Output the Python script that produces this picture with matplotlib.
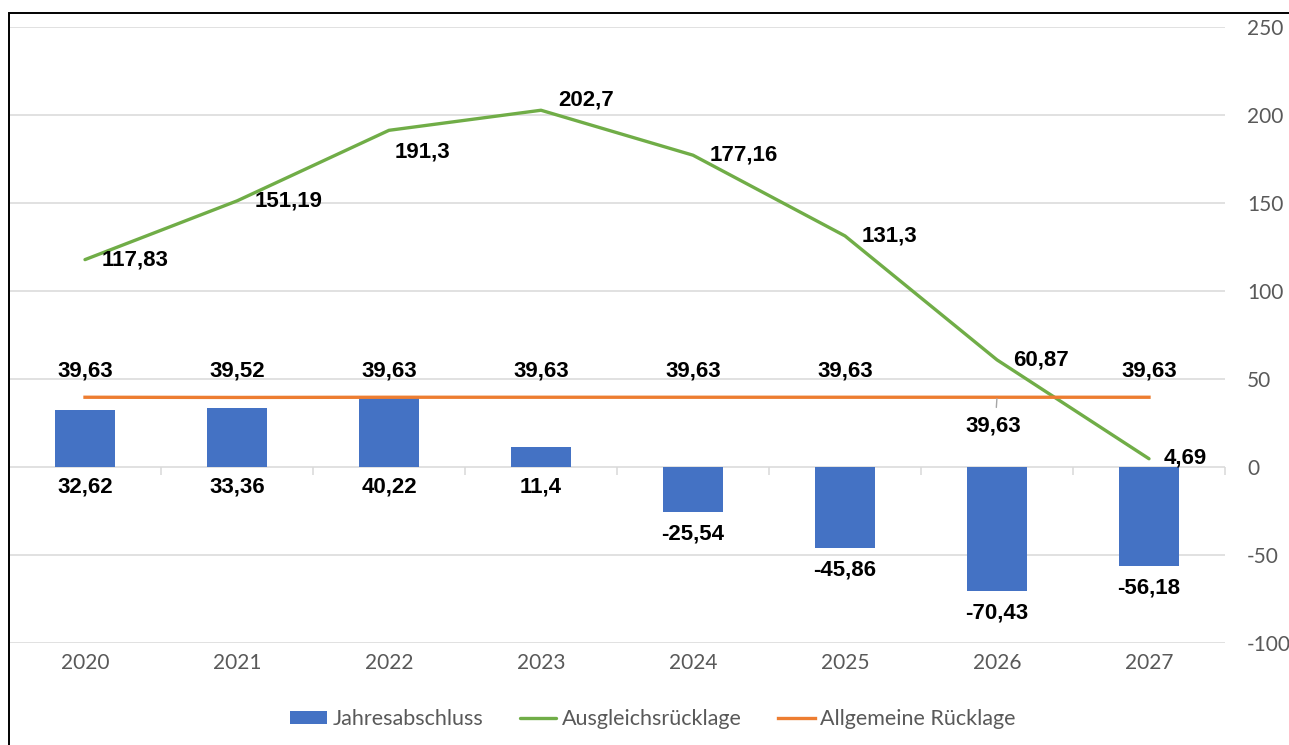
import numpy as np
import matplotlib
matplotlib.use('Agg')
import matplotlib.pyplot as plt
from matplotlib.patches import Rectangle

years = ['2020', '2021', '2022', '2023', '2024', '2025', '2026', '2027']
jahresabschluss = [32.62, 33.36, 40.22, 11.4, -25.54, -45.86, -70.43, -56.18]
ausgleich = [117.83, 151.19, 191.3, 202.7, 177.16, 131.3, 60.87, 4.69]
allgemein = [39.63, 39.52, 39.63, 39.63, 39.63, 39.63, 39.63, 39.63]
y_ticks = [-100, -50, 0, 50, 100, 150, 200, 250]

BLUE = '#4472C4'
GREEN = '#70AD47'
ORANGE = '#ED7D31'
GRID = '#D9D9D9'
TXT = '#595959'

def fmt(v):
    return ('%g' % v).replace('.', ',')

fig = plt.figure(figsize=(12.89, 7.45), dpi=100)
ax = fig.add_axes([9 / 1289, 1 - 643 / 745, (1225 - 9) / 1289, 616 / 745])

x = np.arange(len(years))
bars = ax.bar(x, jahresabschluss, width=0.4, color=BLUE, label='Jahresabschluss', zorder=2)
l1, = ax.plot(x, ausgleich, color=GREEN, lw=2.4, label='Ausgleichsrücklage', zorder=3,
              solid_capstyle='round')
l2, = ax.plot(x, allgemein, color=ORANGE, lw=2.4, label='Allgemeine Rücklage', zorder=3)

ax.set_xlim(-0.5, len(years) - 0.5)
ax.set_ylim(-100, 250)
ax.set_yticks(y_ticks)
ax.yaxis.tick_right()
ax.grid(axis='y', color=GRID, lw=1.1, zorder=0)
ax.set_axisbelow(True)
for s in ax.spines.values():
    s.set_visible(False)

lab_font = dict(family=['Lato', 'DejaVu Sans'], size=15, color=TXT)
ax.set_xticks(x)
ax.set_xticklabels(years, **lab_font)
ax.set_yticklabels([str(t) for t in y_ticks], ha='left', **lab_font)
ax.tick_params(axis='x', length=0, pad=7)
ax.tick_params(axis='y', length=0, pad=16)

# category boundary ticks on the zero line
sec = ax.secondary_xaxis(100 / 350)
sec.set_xticks(np.arange(len(years) + 1) - 0.5)
sec.set_xticklabels([])
sec.tick_params(length=6, width=1.1, color=GRID, direction='out')
sec.spines['bottom'].set_visible(False)

dl = dict(family=['Liberation Sans', 'DejaVu Sans'], size=16, weight='bold', color='black')

# bar labels
for i, v in enumerate(jahresabschluss):
    if v >= 0:
        ax.annotate(fmt(v), (i, 0), xytext=(0, -20), textcoords='offset pixels',
                    ha='center', va='center', **dl)
    else:
        ax.annotate(fmt(v), (i, v), xytext=(0, -22), textcoords='offset pixels',
                    ha='center', va='center', **dl)

# Ausgleichsrücklage labels
g_off = [(17, 0), (18, 0), (6, -22), (17, 10), (17, 0), (17, 0), (16, 0), (15, 1)]
for i, v in enumerate(ausgleich):
    ax.annotate(fmt(v), (i, v), xytext=g_off[i], textcoords='offset pixels',
                ha='left', va='center', zorder=5, **dl)

# Allgemeine Rücklage labels
for i, v in enumerate(allgemein):
    if years[i] == '2026':
        ax.annotate(fmt(v), (i, v), xytext=(-4, -29), textcoords='offset pixels',
                    ha='center', va='center', zorder=5,
                    arrowprops=dict(arrowstyle='-', color='#A6A6A6', lw=1,
                                    relpos=(0.55, 1), shrinkA=4, shrinkB=1), **dl)
    else:
        ax.annotate(fmt(v), (i, v), xytext=(0, 26), textcoords='offset pixels',
                    ha='center', va='center', zorder=5, **dl)

leg = fig.legend([bars, l1, l2], ['Jahresabschluss', 'Ausgleichsrücklage', 'Allgemeine Rücklage'],
                 loc='center', bbox_to_anchor=(653 / 1289, 1 - 719 / 745), ncol=3,
                 frameon=False, prop=dict(family=['Lato', 'DejaVu Sans'], size=15.5),
                 handlelength=1.7, handleheight=0.6, handletextpad=0.25, columnspacing=1.7)
for t in leg.get_texts():
    t.set_color(TXT)

# outer border (left and top visible)
fig.add_artist(Rectangle((9 / 1289, -0.5), 1.5, 0.5 + (1 - 13 / 745), transform=fig.transFigure,
                         fill=False, edgecolor='black', lw=1.4, clip_on=False))

fig.savefig('out.png', dpi=100, facecolor='white')
